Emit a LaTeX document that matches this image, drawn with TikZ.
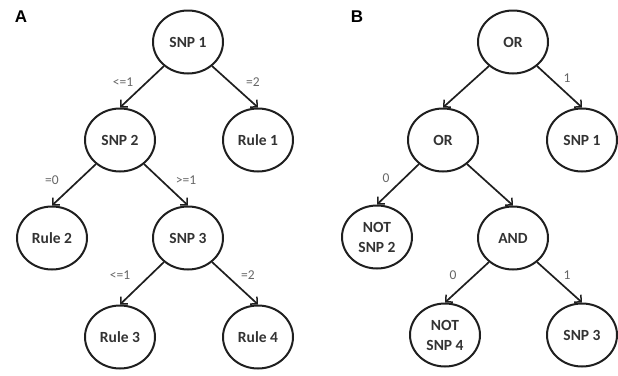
\documentclass[tikz,border=0pt]{standalone}
\usepackage{fontspec}
\setmainfont{Carlito}
\newfontfamily\arialfont{Liberation Sans}
\usetikzlibrary{arrows.meta,shapes.geometric}
\begin{document}
\begin{tikzpicture}[x=1pt,y=-1pt,
 tn/.style={ellipse,draw=black!88,line width=2pt,minimum width=70pt,minimum height=63pt,inner sep=0pt,font=\fontsize{15.5}{20}\selectfont\bfseries,text=black!80,align=center},
 edge/.style={line width=1.7pt,draw=black!88,-{Straight Barb[length=5pt,width=10pt,line width=1.5pt]}},
 lbl/.style={font=\fontsize{13.5}{15}\selectfont,text=black!60},
 panel/.style={font=\arialfont\bfseries\fontsize{17}{20}\selectfont}]
\useasboundingbox (0,0) rectangle (618,375);
% Panel A
\node[panel] (pa) at (21,17) {A};
\node[tn] (s1) at (188,42) {SNP 1};
\node[tn] (s2) at (120,140) {SNP 2};
\node[tn] (r1) at (258,140) {Rule 1};
\node[tn] (r2) at (52,238) {Rule 2};
\node[tn] (s3) at (188,238) {SNP 3};
\node[tn] (r3) at (120,337) {Rule 3};
\node[tn] (r4) at (258,337) {Rule 4};
\draw[edge] (s1.225) -- (s2.north);
\draw[edge] (s1.-45) -- (r1.north);
\draw[edge] (s2.225) -- (r2.north);
\draw[edge] (s2.-45) -- (s3.north);
\draw[edge] (s3.225) -- (r3.north);
\draw[edge] (s3.-45) -- (r4.north);
\node[lbl] (la1) at (123,82) {<=1};
\node[lbl] (la2) at (253,82) {=2};
\node[lbl] (la3) at (52,180) {=0};
\node[lbl] (la4) at (186,180) {>=1};
\node[lbl] (la5) at (120,275) {<=1};
\node[lbl] (la6) at (248,275) {=2};
% Panel B
\node[panel] (pb) at (357,17) {B};
\node[tn] (or1) at (513,42) {OR};
\node[tn] (or2) at (443,140) {OR};
\node[tn] (b1) at (582,140) {SNP 1};
\node[tn] (n2) at (377,237) {NOT\\SNP 2};
\node[tn] (and) at (513,238) {AND};
\node[tn] (n4) at (445,335) {NOT\\SNP 4};
\node[tn] (b3) at (582,335) {SNP 3};
\draw[edge] (or1.225) -- (or2.north);
\draw[edge] (or1.-45) -- (b1.north);
\draw[edge] (or2.225) -- (n2.north);
\draw[edge] (or2.-45) -- (and.north);
\draw[edge] (and.225) -- (n4.north);
\draw[edge] (and.-45) -- (b3.north);
\node[lbl] (lb1) at (567,78) {1};
\node[lbl] (lb2) at (386,178) {0};
\node[lbl] (lb3) at (453,275) {0};
\node[lbl] (lb4) at (567,275) {1};
\end{tikzpicture}
\end{document}
